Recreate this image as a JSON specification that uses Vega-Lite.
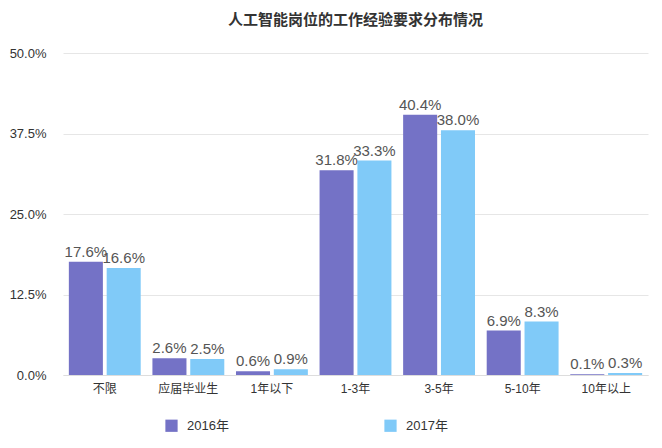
{
  "$schema": "https://vega.github.io/schema/vega-lite/v6.json",
  "autosize": "none",
  "width": 585,
  "height": 322,
  "padding": {"left": 63, "top": 53, "right": 14, "bottom": 73},
  "background": "white",
  "title": {
    "text": "人工智能岗位的工作经验要求分布情况",
    "font": "Noto Sans CJK SC",
    "fontSize": 15,
    "fontWeight": "bold",
    "color": "#333333",
    "anchor": "middle",
    "offset": 19
  },
  "config": {
    "view": {"stroke": null},
    "font": "Liberation Sans, Noto Sans CJK SC"
  },
  "data": {
    "values": [
      {"cat": "不限", "year": "2016年", "v": 0.176},
      {"cat": "不限", "year": "2017年", "v": 0.166},
      {"cat": "应届毕业生", "year": "2016年", "v": 0.026},
      {"cat": "应届毕业生", "year": "2017年", "v": 0.025},
      {"cat": "1年以下", "year": "2016年", "v": 0.006},
      {"cat": "1年以下", "year": "2017年", "v": 0.009},
      {"cat": "1-3年", "year": "2016年", "v": 0.318},
      {"cat": "1-3年", "year": "2017年", "v": 0.333},
      {"cat": "3-5年", "year": "2016年", "v": 0.404},
      {"cat": "3-5年", "year": "2017年", "v": 0.38},
      {"cat": "5-10年", "year": "2016年", "v": 0.069},
      {"cat": "5-10年", "year": "2017年", "v": 0.083},
      {"cat": "10年以上", "year": "2016年", "v": 0.001},
      {"cat": "10年以上", "year": "2017年", "v": 0.003}
    ]
  },
  "encoding": {
    "x": {
      "field": "cat",
      "type": "nominal",
      "sort": null,
      "scale": {"paddingInner": 0.14, "paddingOuter": 0.07},
      "axis": {
        "title": null,
        "labelAngle": 0,
        "labelFontSize": 12,
        "labelColor": "#333333",
        "labelPadding": 8,
        "ticks": false,
        "domainColor": "#dddddd"
      }
    },
    "xOffset": {
      "field": "year",
      "type": "nominal",
      "scale": {"paddingInner": 0.1}
    },
    "y": {
      "field": "v",
      "type": "quantitative",
      "scale": {"domain": [0, 0.5]},
      "axis": {
        "title": null,
        "values": [0, 0.125, 0.25, 0.375, 0.5],
        "format": ".1%",
        "labelFontSize": 13,
        "labelColor": "#333333",
        "labelPadding": 17,
        "ticks": false,
        "domain": false,
        "gridColor": "#e6e6e6"
      }
    }
  },
  "layer": [
    {
      "mark": {"type": "bar"},
      "encoding": {
        "color": {
          "field": "year",
          "type": "nominal",
          "scale": {"range": ["#7472c6", "#80caf8"]},
          "legend": {
            "title": null,
            "orient": "none",
            "direction": "horizontal",
            "legendX": 102,
            "legendY": 366,
            "symbolType": "square",
            "symbolSize": 150,
            "symbolStrokeWidth": 0,
            "labelFontSize": 13,
            "labelColor": "#333333",
            "labelOffset": 9,
            "columnPadding": 155
          }
        }
      }
    },
    {
      "mark": {"type": "text", "baseline": "bottom", "dy": -2, "fontSize": 15, "color": "#555555"},
      "encoding": {
        "text": {"field": "v", "type": "quantitative", "format": ".1%"}
      }
    }
  ]
}
